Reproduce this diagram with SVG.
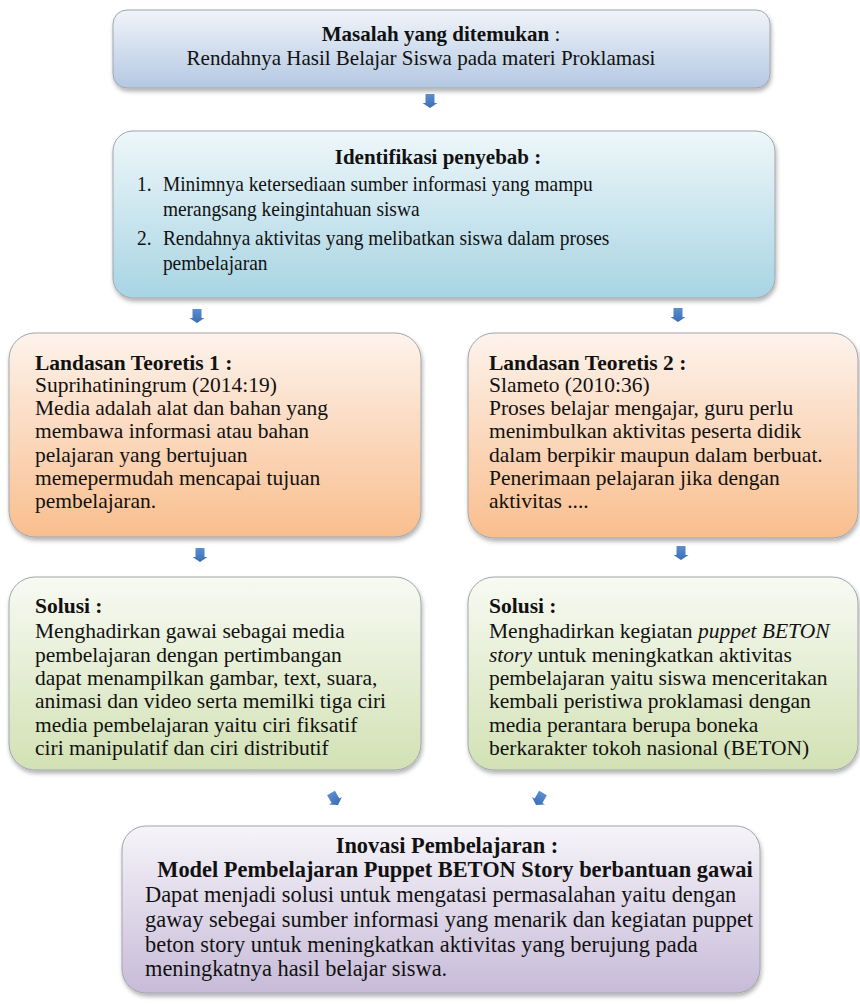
<svg xmlns="http://www.w3.org/2000/svg" xmlns:xlink="http://www.w3.org/1999/xlink" width="860" height="1006" viewBox="0 0 860 1006">
<defs>
<linearGradient id="gBlue" x1="0" y1="0" x2="0" y2="1"><stop offset="0" stop-color="#f0f4fa"/><stop offset="1" stop-color="#b4c8e2"/></linearGradient>
<linearGradient id="gAqua" x1="0" y1="0" x2="0" y2="1"><stop offset="0" stop-color="#eef7fa"/><stop offset="1" stop-color="#a8d4e3"/></linearGradient>
<linearGradient id="gOrange" x1="0" y1="0" x2="0" y2="1"><stop offset="0" stop-color="#fdf3ec"/><stop offset="1" stop-color="#f9be8e"/></linearGradient>
<linearGradient id="gGreen" x1="0" y1="0" x2="0" y2="1"><stop offset="0" stop-color="#f8faf3"/><stop offset="1" stop-color="#d2e1b4"/></linearGradient>
<linearGradient id="gPurple" x1="0" y1="0" x2="0" y2="1"><stop offset="0" stop-color="#f6f4f9"/><stop offset="1" stop-color="#c7bbd8"/></linearGradient>
<linearGradient id="gArrow" x1="0" y1="0" x2="0" y2="1"><stop offset="0" stop-color="#5b8fd0"/><stop offset="1" stop-color="#3a6db3"/></linearGradient>
<filter id="shadow" x="-5%" y="-5%" width="110%" height="115%"><feDropShadow dx="1" dy="3" stdDeviation="2" flood-color="#000" flood-opacity="0.3"/></filter>
<path id="arr" d="M-4.5,0 H4.5 V9 H7.5 L0,14 L-7.5,9 H-4.5 Z" fill="url(#gArrow)"/>
</defs>
<style>
.box{stroke:#a0a6ad;stroke-width:1;filter:url(#shadow)}
text{font-family:"Liberation Serif","Times New Roman",serif;fill:#111}
.b{font-weight:bold}
.t1{font-size:21px}
.t2{font-size:21px}
.t3{font-size:21.5px}
.t7{font-size:22.4px}
.c{text-anchor:middle}
</style>
<rect width="860" height="1006" fill="#ffffff"/>

<g id="node-masalah">
<rect class="box" x="113" y="10" width="657" height="78" rx="14" fill="url(#gBlue)"/>
<text class="t1 c" x="441" y="41"><tspan class="b">Masalah yang ditemukan</tspan> :</text>
<text class="t1 c" x="421" y="65">Rendahnya Hasil Belajar Siswa pada materi Proklamasi</text>
</g>

<g id="node-identifikasi">
<rect class="box" x="113" y="131" width="662" height="167" rx="20" fill="url(#gAqua)"/>
<text class="t2 b c" x="438" y="164">Identifikasi penyebab :</text>
<g transform="translate(137,0) scale(0.925,1)">
<text class="t2" x="0" y="191">1.</text>
<text class="t2" x="28" y="191">Minimnya ketersediaan sumber informasi yang mampu</text>
<text class="t2" x="28" y="216">merangsang keingintahuan siswa</text>
<text class="t2" x="0" y="245">2.</text>
<text class="t2" x="28" y="245">Rendahnya aktivitas yang melibatkan siswa dalam proses</text>
<text class="t2" x="28" y="270">pembelajaran</text>
</g>
</g>

<g id="node-landasan1">
<rect class="box" x="9" y="333" width="412" height="204" rx="26" fill="url(#gOrange)"/>
<text class="t3 b" x="35" y="370">Landasan Teoretis 1 :</text>
<text class="t3" x="35" y="392">Suprihatiningrum (2014:19)</text>
<text class="t3" x="35" y="415">Media adalah alat dan bahan yang</text>
<text class="t3" x="35" y="438">membawa informasi atau bahan</text>
<text class="t3" x="35" y="462">pelajaran yang bertujuan</text>
<text class="t3" x="35" y="485">memepermudah mencapai tujuan</text>
<text class="t3" x="35" y="508">pembelajaran.</text>
</g>

<g id="node-landasan2">
<rect class="box" x="468" y="333" width="390" height="205" rx="26" fill="url(#gOrange)"/>
<text class="t3 b" x="489" y="370">Landasan Teoretis 2 :</text>
<text class="t3" x="489" y="392">Slameto (2010:36)</text>
<text class="t3" x="489" y="415">Proses belajar mengajar, guru perlu</text>
<text class="t3" x="489" y="438">menimbulkan aktivitas peserta didik</text>
<text class="t3" x="489" y="462">dalam berpikir maupun dalam berbuat.</text>
<text class="t3" x="489" y="485">Penerimaan pelajaran jika dengan</text>
<text class="t3" x="489" y="508">aktivitas ....</text>
</g>

<g id="node-solusi1">
<rect class="box" x="9" y="577" width="412" height="193" rx="26" fill="url(#gGreen)"/>
<text class="t3 b" x="35" y="613">Solusi :</text>
<text class="t3" x="35" y="638">Menghadirkan gawai sebagai media</text>
<text class="t3" x="35" y="662">pembelajaran dengan pertimbangan</text>
<text class="t3" x="35" y="685">dapat menampilkan gambar, text, suara,</text>
<text class="t3" x="35" y="708">animasi dan video serta memilki tiga ciri</text>
<text class="t3" x="35" y="732">media pembelajaran yaitu ciri fiksatif</text>
<text class="t3" x="35" y="755">ciri manipulatif dan ciri distributif</text>
</g>

<g id="node-solusi2">
<rect class="box" x="468" y="577" width="390" height="193" rx="26" fill="url(#gGreen)"/>
<text class="t3 b" x="489" y="613">Solusi :</text>
<text class="t3" x="489" y="638">Menghadirkan kegiatan <tspan font-style="italic">puppet BETON</tspan></text>
<text class="t3" x="489" y="662"><tspan font-style="italic">story</tspan> untuk meningkatkan aktivitas</text>
<text class="t3" x="489" y="685">pembelajaran yaitu siswa menceritakan</text>
<text class="t3" x="489" y="708">kembali peristiwa proklamasi dengan</text>
<text class="t3" x="489" y="732">media perantara berupa boneka</text>
<text class="t3" x="489" y="755">berkarakter tokoh nasional (BETON)</text>
</g>

<g id="node-inovasi">
<rect class="box" x="122" y="826" width="638" height="167" rx="24" fill="url(#gPurple)"/>
<text class="t7 b c" x="447" y="853">Inovasi Pembelajaran :</text>
<text class="t7 b c" x="455" y="877">Model Pembelajaran Puppet BETON Story berbantuan gawai</text>
<text class="t7" x="145" y="902">Dapat menjadi solusi untuk mengatasi permasalahan yaitu dengan</text>
<text class="t7" x="145" y="927">gaway sebegai sumber informasi yang menarik dan kegiatan puppet</text>
<text class="t7" x="145" y="952">beton story untuk meningkatkan aktivitas yang berujung pada</text>
<text class="t7" x="145" y="976">meningkatnya hasil belajar siswa.</text>
</g>

<g id="connectors">
<use xlink:href="#arr" transform="translate(430,94)"/>
<use xlink:href="#arr" transform="translate(197,309)"/>
<use xlink:href="#arr" transform="translate(678,308)"/>
<use xlink:href="#arr" transform="translate(200,548)"/>
<use xlink:href="#arr" transform="translate(681,546)"/>
<use xlink:href="#arr" transform="translate(331,793) rotate(-30)"/>
<use xlink:href="#arr" transform="translate(543,793) rotate(30)"/>
</g>
</svg>
